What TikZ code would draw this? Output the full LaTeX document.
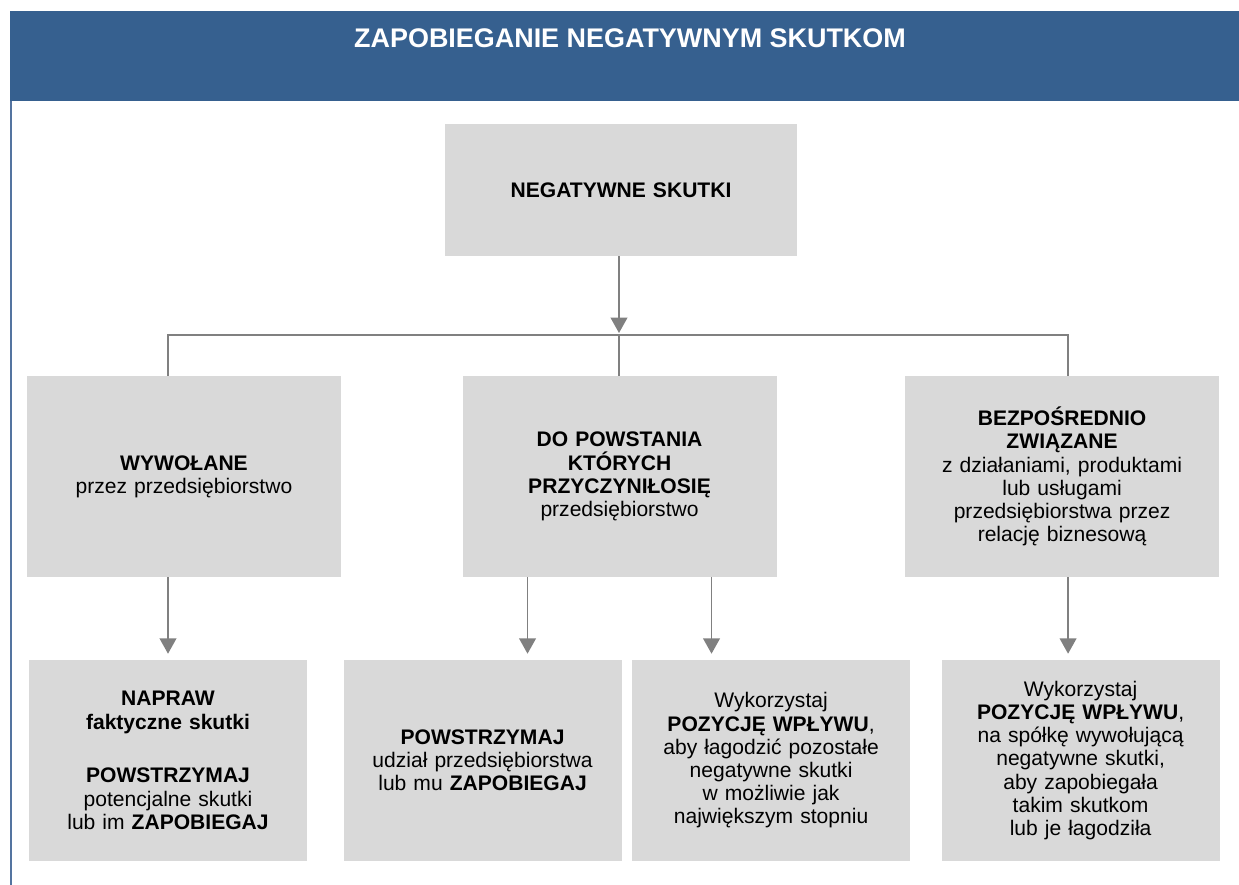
\documentclass[tikz,border=0pt]{standalone}
\usepackage{fontspec}
\setmainfont{Liberation Sans}
\usetikzlibrary{arrows.meta, positioning, calc}
\definecolor{banner}{RGB}{54,96,143}
\definecolor{edge}{RGB}{84,116,160}
\definecolor{cellgray}{RGB}{217,217,217}
\definecolor{linkgray}{RGB}{128,128,128}
\tikzset{
    cell/.style={fill=cellgray, inner sep=0pt, align=center, font=\fontsize{15.8}{17.4}\selectfont},
    head/.style={cell, minimum width=264pt, minimum height=99pt, text width=250pt},
    wide/.style={cell, minimum width=235.5pt, minimum height=150.75pt, text width=225pt},
    narrow/.style={cell, minimum width=208.5pt, minimum height=150.75pt, text width=204pt},
    link/.style={draw=linkgray, line width=1.3pt},
    pointer/.style={link, -{Triangle[width=12.5pt, length=11.5pt]}, shorten >=4.5pt},
}

\begin{document}
\begin{tikzpicture}[x=0.75pt, y=-0.75pt]
    \useasboundingbox (0,0) rectangle (1239,885);
    \fill[banner] (10,11) rectangle (1239,101);
    \draw[edge, line width=1.5pt] (10.5,101) -- (10.5,885);
    \node[text=white, font=\fontsize{20.2}{24}\selectfont\bfseries] (title) at (630,38.5) {ZAPOBIEGANIE NEGATYWNYM SKUTKOM};

    \node[head] (t) at (621,190) {\textbf{NEGATYWNE SKUTKI}};
    \node[wide] (a) at (184,476.5) {\textbf{WYWOŁANE}\\ przez przedsiębiorstwo};
    \node[wide, right=90.75pt of a] (b) {\textbf{DO POWSTANIA}\\ \textbf{KTÓRYCH}\\ \textbf{PRZYCZYNIŁOSIĘ}\\ przedsiębiorstwo};
    \node[wide, right=96pt of b] (c) {\textbf{BEZPOŚREDNIO}\\ \textbf{ZWIĄZANE}\\ z działaniami, produktami\\ lub usługami\\ przedsiębiorstwa przez\\ relację biznesową};

    \node[narrow] (d1) at (168,760.5) {\textbf{NAPRAW}\\ \textbf{faktyczne skutki}\\[23pt] \textbf{POWSTRZYMAJ}\\ potencjalne skutki\\ lub im \textbf{ZAPOBIEGAJ}};
    \node[narrow, right=27pt of d1] (d2) {\textbf{POWSTRZYMAJ}\\ udział przedsiębiorstwa\\ lub mu \textbf{ZAPOBIEGAJ}};
    \node[narrow, right=7.5pt of d2] (d3) {Wykorzystaj\\ \textbf{POZYCJĘ WPŁYWU},\\ aby łagodzić pozostałe\\ negatywne skutki\\ w możliwie jak\\ największym stopniu};
    \node[narrow, right=23.25pt of d3] (d4) {Wykorzystaj\\ \textbf{POZYCJĘ WPŁYWU},\\ na spółkę wywołującą\\ negatywne skutki,\\ aby zapobiegała\\ takim skutkom\\ lub je łagodziła};

    \coordinate (j) at (619,335);
    \draw[pointer, shorten >=1.5pt] (t.south -| j) -- (j);
    \draw[link] (a.north -| d1.north) |- (j) -| ($(c.north)+(6,0)$);
    \draw[link] (j) -- (b.north -| j);
    \draw[pointer] (a.south -| d1.north) -- (d1.north);
    \draw[pointer] ($(b.south)+(-92,0)$) -- ($(b.south |- d2.north)+(-92,0)$);
    \draw[pointer] ($(b.south)+(92,0)$) -- ($(b.south |- d3.north)+(92,0)$);
    \draw[pointer] ($(c.south)+(6,0)$) -- ($(c.south |- d4.north)+(6,0)$);
\end{tikzpicture}
\end{document}
